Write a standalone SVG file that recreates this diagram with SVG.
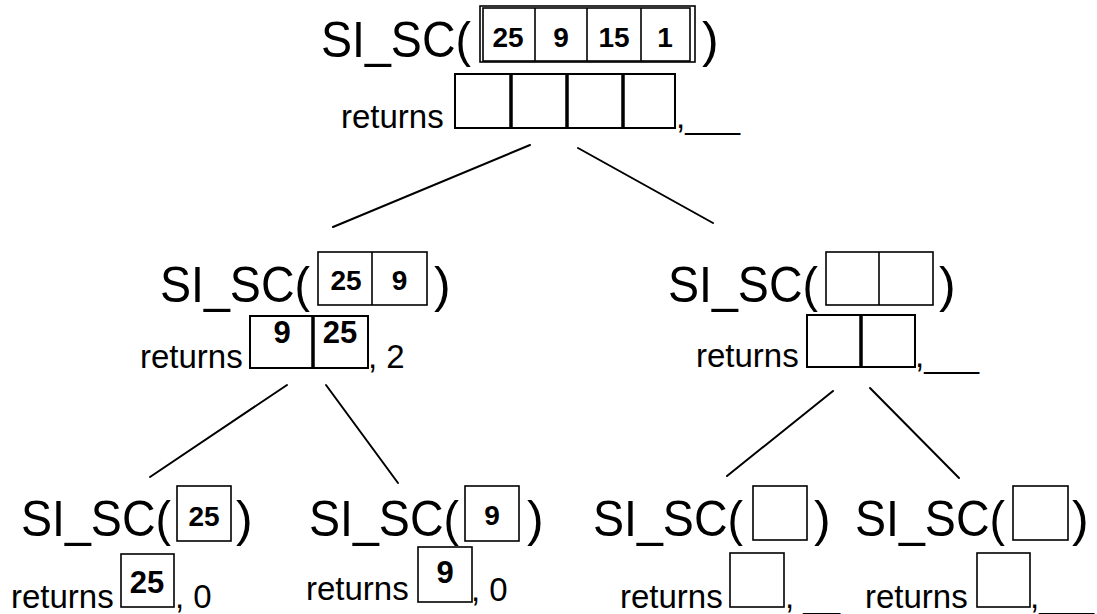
<svg xmlns="http://www.w3.org/2000/svg" width="1097" height="614" viewBox="0 0 1097 614">
  <style>
    .call { font-family: "Liberation Sans", Arial, sans-serif; font-size: 50px; fill: #000; }
    .ret { font-family: "Liberation Sans", Arial, sans-serif; font-size: 33px; fill: #000; }
    .num { font-family: "Liberation Sans", Arial, sans-serif; font-size: 28px; font-weight: bold; fill: #000; text-anchor: middle; }
    .rnum { font-family: "Liberation Sans", Arial, sans-serif; font-size: 31px; font-weight: bold; fill: #000; text-anchor: middle; }
    .arg { fill: none; stroke: #000; stroke-width: 1.6; }
    .out { fill: none; stroke: #000; stroke-width: 2; }
    .sep { stroke: #000; stroke-width: 3.5; }
    .thin { stroke: #000; stroke-width: 1.6; }
    .edge { stroke: #000; stroke-width: 2; stroke-linecap: round; }
  </style>

  <!-- tree edges -->
  <g id="connectors">
    <line class="edge" x1="530" y1="145" x2="333" y2="227"/>
    <line class="edge" x1="578" y1="148" x2="713" y2="223"/>
    <line class="edge" x1="287" y1="385" x2="150" y2="477"/>
    <line class="edge" x1="326" y1="385" x2="398" y2="483"/>
    <line class="edge" x1="833" y1="391" x2="727" y2="476"/>
    <line class="edge" x1="870" y1="388" x2="959" y2="478"/>
  </g>

  <!-- root call on four elements -->
  <g id="root">
    <text class="call" x="321" y="57" textLength="150" lengthAdjust="spacingAndGlyphs">SI_SC(</text>
    <rect class="arg" x="480" y="6" width="215" height="56"/>
    <rect class="arg" x="483" y="8" width="207" height="53"/>
    <line class="thin" x1="535" y1="8" x2="535" y2="61"/>
    <line class="thin" x1="587" y1="8" x2="587" y2="61"/>
    <line class="thin" x1="641" y1="8" x2="641" y2="61"/>
    <text class="num" x="508" y="47">25</text>
    <text class="num" x="561" y="47">9</text>
    <text class="num" x="614" y="47">15</text>
    <text class="num" x="665" y="47">1</text>
    <text class="call" x="702" y="57">)</text>
    <text class="ret" x="341" y="128">returns</text>
    <rect class="out" x="455" y="74" width="220" height="54"/>
    <line class="sep" x1="511" y1="74" x2="511" y2="128"/>
    <line class="sep" x1="567" y1="74" x2="567" y2="128"/>
    <line class="sep" x1="623" y1="74" x2="623" y2="128"/>
    <text class="ret" x="676" y="128">,___</text>
  </g>

  <!-- left half -->
  <g id="left">
    <text class="call" x="160" y="302" textLength="150" lengthAdjust="spacingAndGlyphs">SI_SC(</text>
    <rect class="arg" x="318" y="252" width="109" height="53"/>
    <line class="thin" x1="372" y1="252" x2="372" y2="305"/>
    <text class="num" x="346" y="290">25</text>
    <text class="num" x="399.5" y="290">9</text>
    <text class="call" x="434" y="302">)</text>
    <text class="ret" x="140" y="368">returns</text>
    <rect class="out" x="250" y="316" width="118" height="52"/>
    <line class="sep" x1="313" y1="316" x2="313" y2="368"/>
    <text class="rnum" x="282" y="343">9</text>
    <text class="rnum" x="340" y="343">25</text>
    <text class="ret" x="368" y="368">, 2</text>
  </g>

  <!-- right half -->
  <g id="right">
    <text class="call" x="668" y="302" textLength="150" lengthAdjust="spacingAndGlyphs">SI_SC(</text>
    <rect class="arg" x="826" y="252" width="107" height="53"/>
    <line class="thin" x1="879" y1="252" x2="879" y2="305"/>
    <text class="call" x="939" y="302">)</text>
    <text class="ret" x="696" y="367">returns</text>
    <rect class="out" x="807" y="315" width="108" height="52"/>
    <line class="sep" x1="861" y1="315" x2="861" y2="367"/>
    <text class="ret" x="915" y="367">,___</text>
  </g>

  <!-- leaf: 25 -->
  <g id="leaf-25">
    <text class="call" x="21" y="536" textLength="150" lengthAdjust="spacingAndGlyphs">SI_SC(</text>
    <rect class="arg" x="177" y="486" width="54" height="55"/>
    <text class="num" x="204" y="526">25</text>
    <text class="call" x="236" y="536">)</text>
    <text class="ret" x="11" y="608">returns</text>
    <rect class="arg" x="121" y="554" width="53" height="53"/>
    <text class="rnum" x="147" y="593">25</text>
    <text class="ret" x="175" y="608">, 0</text>
  </g>

  <!-- leaf: 9 -->
  <g id="leaf-9">
    <text class="call" x="309" y="536" textLength="150" lengthAdjust="spacingAndGlyphs">SI_SC(</text>
    <rect class="arg" x="465" y="486" width="54" height="55"/>
    <text class="num" x="492" y="525">9</text>
    <text class="call" x="527" y="536">)</text>
    <text class="ret" x="306" y="600">returns</text>
    <rect class="arg" x="418" y="547" width="54" height="55"/>
    <text class="rnum" x="445" y="583">9</text>
    <text class="ret" x="471" y="601">, 0</text>
  </g>

  <!-- leaf: right-left -->
  <g id="leaf-rl">
    <text class="call" x="593" y="536" textLength="150" lengthAdjust="spacingAndGlyphs">SI_SC(</text>
    <rect class="arg" x="753" y="486" width="54" height="54"/>
    <text class="call" x="814" y="536">)</text>
    <text class="ret" x="620" y="608">returns</text>
    <rect class="arg" x="730" y="553" width="54" height="54"/>
    <text class="ret" x="785" y="608">, __</text>
  </g>

  <!-- leaf: right-right -->
  <g id="leaf-rr">
    <text class="call" x="855" y="536" textLength="150" lengthAdjust="spacingAndGlyphs">SI_SC(</text>
    <rect class="arg" x="1013" y="486" width="55" height="54"/>
    <text class="call" x="1072" y="536">)</text>
    <text class="ret" x="865" y="608">returns</text>
    <rect class="arg" x="977" y="553" width="53" height="54"/>
    <text class="ret" x="1030" y="608">,___</text>
  </g>
</svg>
